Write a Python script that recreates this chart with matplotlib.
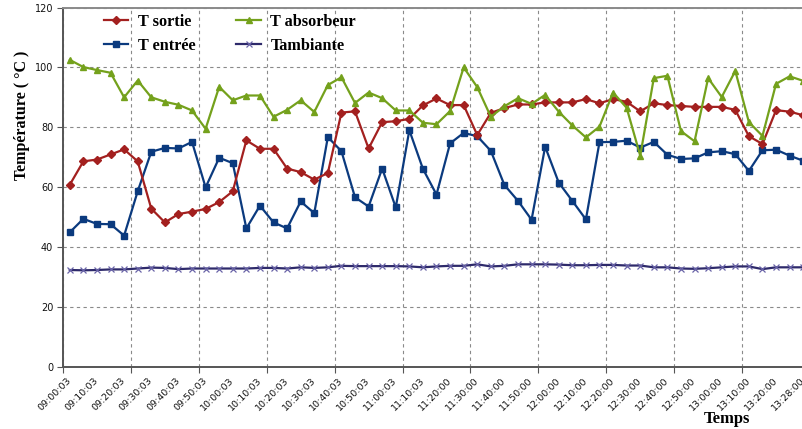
import matplotlib
matplotlib.use("Agg")
import matplotlib.pyplot as plt
from matplotlib.lines import Line2D

time_labels = ["09:00:03", "09:10:03", "09:20:03", "09:30:03", "09:40:03", "09:50:03",
               "10:00:03", "10:10:03", "10:20:03", "10:30:03", "10:40:03", "10:50:03",
               "11:00:03", "11:10:03", "11:20:00", "11:30:00", "11:40:00", "11:50:00",
               "12:00:00", "12:10:00", "12:20:00", "12:30:00", "12:40:00", "12:50:00",
               "13:00:00", "13:10:00", "13:20:00", "13:28:00"]

t_absorbeur = [102.5, 100.1, 99.1, 98.2, 90.0, 95.6, 90.0, 88.5, 87.5, 85.6,
               79.5, 93.5, 89.0, 90.6, 90.6, 83.5, 85.8, 89.0, 85.1, 94.1,
               96.7, 88.1, 91.6, 89.7, 85.6, 85.6, 81.5, 81.0, 85.4, 100.0,
               93.4, 83.5, 87.0, 89.7, 87.8, 90.8, 85.2, 80.6, 76.6, 80.2,
               91.6, 86.5, 70.5, 96.4, 97.2, 78.7, 75.3, 96.4, 90.1, 98.8,
               81.7, 77.1, 94.5, 97.0, 95.5]

t_sortie = [60.8, 68.6, 69.2, 70.9, 72.6, 68.6, 52.8, 48.2, 51.0, 51.8,
            52.7, 55.0, 58.6, 75.6, 72.8, 72.8, 66.2, 65.0, 62.5, 64.7,
            84.9, 85.3, 72.9, 81.7, 82.0, 82.8, 87.3, 89.6, 87.4, 87.4,
            77.4, 84.8, 86.4, 87.6, 87.6, 88.3, 88.3, 88.3, 89.4, 88.0,
            89.4, 88.5, 85.3, 88.0, 87.4, 87.1, 86.8, 86.8, 86.8, 85.8,
            77.0, 74.4, 85.7, 85.2, 84.0]

t_entree = [44.9, 49.4, 47.7, 47.6, 43.8, 58.6, 71.8, 73.1, 72.9, 75.1,
            59.9, 69.8, 68.0, 46.2, 53.8, 48.2, 46.2, 55.2, 51.3, 76.7,
            72.0, 56.6, 53.5, 66.2, 53.2, 79.0, 66.1, 57.5, 74.6, 78.1,
            77.0, 72.1, 60.7, 55.4, 49.1, 73.5, 61.5, 55.4, 49.2, 75.0,
            75.1, 75.5, 73.2, 75.1, 70.8, 69.4, 69.6, 71.6, 72.0, 71.0,
            65.4, 72.3, 72.5, 70.5, 68.8]

t_ambiante = [32.3, 32.2, 32.3, 32.5, 32.5, 32.8, 33.1, 33.0, 32.6, 32.8,
              32.8, 32.8, 32.8, 32.8, 33.0, 33.0, 32.8, 33.2, 33.0, 33.2,
              33.7, 33.6, 33.6, 33.6, 33.6, 33.5, 33.2, 33.5, 33.7, 33.7,
              34.2, 33.5, 33.7, 34.2, 34.2, 34.2, 34.1, 33.9, 33.9, 34.0,
              34.0, 33.8, 33.8, 33.2, 33.2, 32.8, 32.7, 32.9, 33.2, 33.5,
              33.5, 32.6, 33.2, 33.2, 33.2]

C_RED = "#A3201F"
C_GREEN = "#74A11C"
C_BLUE = "#0B3A7E"
C_AMB = "#2E2A6B"

n = len(t_sortie)
x = list(range(n))

fig = plt.figure(figsize=(8.03, 4.29), dpi=100)
L, R, T, B = 63, 810, 7.5, 366.7
ax = fig.add_axes([L / 803, (429 - B) / 429, (R - L) / 803, (B - T) / 429])

ax.plot(x, t_ambiante, color=C_AMB, lw=1.6, marker="x", ms=5, mec="#6A64A8", mew=0.9, zorder=3)
ax.plot(x, t_entree, color=C_BLUE, lw=1.6, marker="s", ms=4.2, zorder=4)
ax.plot(x, t_sortie, color=C_RED, lw=1.6, marker="D", ms=4.0, zorder=5)
ax.plot(x, t_absorbeur, color=C_GREEN, lw=1.6, marker="^", ms=4.8, zorder=6)

ax.set_xlim(-0.5, n - 0.5)
ax.set_ylim(0, 120)
ax.set_yticks(range(0, 121, 20))
ax.set_xticks([i - 0.5 for i in range(0, n + 1, 5)])
ax.set_xticklabels([])
ax.set_xticks(list(range(0, n, 2)), minor=True)
ax.set_xticklabels(time_labels, minor=True, rotation=45, ha="right", va="center",
                   rotation_mode="anchor", fontsize=6.8, color="#111111")
ax.tick_params(axis="x", which="minor", length=0, pad=9)
ax.tick_params(axis="x", which="major", length=4, color="#555555")
ax.tick_params(axis="y", length=4, color="#555555", labelsize=7, labelcolor="#111111", pad=3)

ax.grid(True, which="major", color="#8A8A8A", linestyle=(0, (3, 3)), lw=0.8)
ax.set_axisbelow(True)
for s in ["left", "bottom"]:
    ax.spines[s].set_color("#555555")
    ax.spines[s].set_linewidth(1.4)
ax.spines["top"].set_color("#8A8A8A")
ax.spines["top"].set_linewidth(1.4)
ax.spines["right"].set_visible(False)

serif = ["Liberation Serif", "DejaVu Serif"]
fig.text(22 / 803, 1 - 115 / 429, "Température ( °C )", rotation=90, ha="center", va="center",
         family=serif, fontweight="bold", fontsize=11.5)
fig.text(727 / 803, 1 - 419 / 429, "Temps", ha="center", va="center",
         family=serif, fontweight="bold", fontsize=12)

handles = [
    Line2D([], [], color=C_RED, lw=1.6, marker="D", ms=4.0),
    Line2D([], [], color=C_BLUE, lw=1.6, marker="s", ms=4.2),
    Line2D([], [], color=C_GREEN, lw=1.6, marker="^", ms=4.8),
    Line2D([], [], color=C_AMB, lw=1.6, marker="x", ms=5, mec="#6A64A8", mew=0.9),
]
labels = ["T sortie", "T entrée", "T absorbeur", "Tambiante"]
ax.legend(handles, labels, ncol=2, frameon=False, loc="upper left",
          bbox_to_anchor=((104 - L) / (R - L), 1 - (14 - T) / (B - T)),
          borderaxespad=0, borderpad=0, handlelength=1.5, handletextpad=0.6,
          columnspacing=2.5, labelspacing=0.5,
          prop={"family": serif, "weight": "bold", "size": 11.7})

fig.savefig("out.png", dpi=100)
